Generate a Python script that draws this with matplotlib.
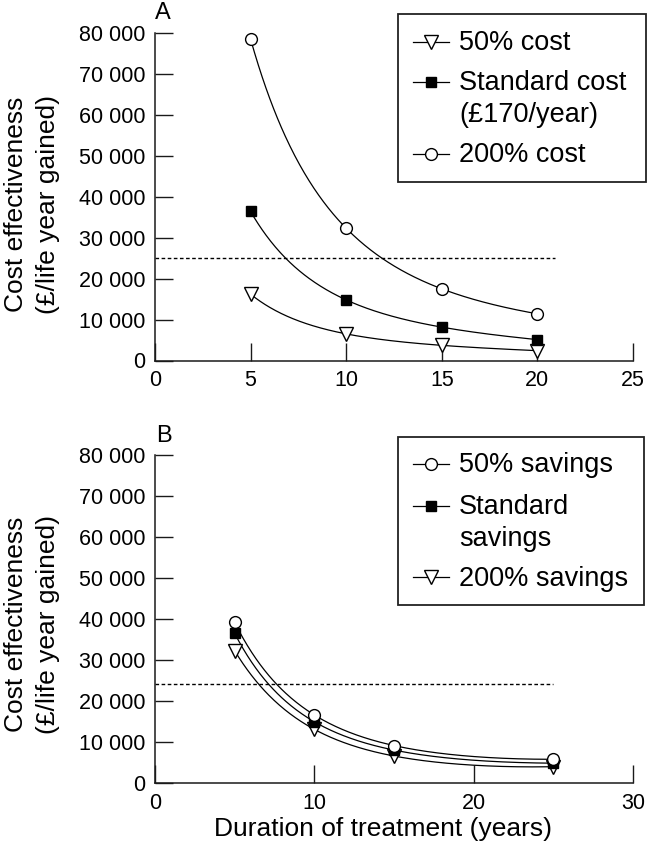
import numpy as np
import matplotlib
matplotlib.use("Agg")
import matplotlib.pyplot as plt
from matplotlib.lines import Line2D
from matplotlib.patches import Rectangle

# ---------------- data ----------------
years_A = [5, 10, 15, 20]
cost_50 = [16200, 6500, 3700, 2400]
cost_std = [36400, 14800, 8150, 5100]
cost_200 = [78500, 32300, 17500, 11400]
threshold_A = 25000
threshold_A_xmax = 20.9

years_B = [5, 10, 15, 25]
sav_50 = [39200, 16650, 9200, 5850]
sav_std = [36550, 15000, 8100, 4900]
sav_200 = [32300, 13150, 6650, 4050]
threshold_B = 24100
threshold_B_xmax = 25.0

y_ticks = [0, 10000, 20000, 30000, 40000, 50000, 60000, 70000, 80000]
x_ticks_A = [0, 5, 10, 15, 20, 25]
x_ticks_B = [0, 10, 20, 30]

labels_A = ["50% cost", "Standard cost\n(£170/year)", "200% cost"]
labels_B = ["50% savings", "Standard\nsavings", "200% savings"]

ylabel = "Cost effectiveness\n(£/life year gained)"
xlabel = "Duration of treatment (years)"

# ---------------- style ----------------
W, H = 648, 852
plt.rcParams['font.family'] = ['Liberation Sans', 'DejaVu Sans']
fig = plt.figure(figsize=(W / 100, H / 100), dpi=100)


def fx(x):
    return x / W


def fy(y):
    return 1 - y / H


def smooth(x, y):
    x = np.asarray(x, float)
    ly = np.log(np.asarray(y, float))
    c = np.polyfit(x, ly, len(x) - 1)
    xs = np.linspace(x[0], x[-1], 300)
    return xs, np.exp(np.polyval(c, xs))


def fmt(v):
    return f"{v:,}".replace(",", " ")


MK = {
    'tri': dict(marker='v', mfc='white', ms=9.5),
    'sq': dict(marker='s', mfc='black', ms=7.5),
    'circ': dict(marker='o', mfc='white', ms=8.5),
}


def setup_axes(rect, xmax, xticks):
    ax = fig.add_axes(rect)
    ax.set_xlim(0, xmax)
    ax.set_ylim(0, 80000)
    for s in ['top', 'right']:
        ax.spines[s].set_visible(False)
    for s in ['left', 'bottom']:
        ax.spines[s].set_linewidth(1.1)
        ax.spines[s].set_color('#1a1a1a')
    ax.set_yticks(y_ticks)
    ax.set_yticklabels([fmt(v) for v in y_ticks])
    ax.set_xticks(xticks)
    ax.set_xticklabels([str(v) for v in xticks])
    ax.tick_params(axis='both', direction='in', length=13, width=1.0,
                   color='#1a1a1a', labelsize=15.5, pad=7)
    return ax


def draw_series(ax, x, y, key):
    xs, ys = smooth(x, y)
    ax.plot(xs, ys, color='black', lw=0.9, zorder=2)
    ax.plot(x, y, ls='none', mec='black', mew=1.0, zorder=3, clip_on=False,
            **MK[key])


def draw_legend(box, labels, keys, marker_y, line_baselines):
    x0, y0, x1, y1 = box
    fig.add_artist(Rectangle((fx(x0), fy(y1)), fx(x1 - x0), (y1 - y0) / H,
                             transform=fig.transFigure, fill=False,
                             lw=1.3, ec='#222222'))
    for lab, key, my, bls in zip(labels, keys, marker_y, line_baselines):
        fig.add_artist(Line2D([fx(413), fx(449)], [fy(my), fy(my)],
                              transform=fig.transFigure, color='black', lw=0.9))
        fig.add_artist(Line2D([fx(431)], [fy(my)], transform=fig.transFigure,
                              ls='none', mec='black', mew=1.0, **MK[key]))
        for line, bl in zip(lab.split("\n"), bls):
            fig.text(fx(459), fy(bl), line, fontsize=19.5, ha='left',
                     va='baseline')


# ---------------- panel A ----------------
axA = setup_axes([fx(155), fy(360.5), fx(633 - 155), (360.5 - 33) / H],
                 25, x_ticks_A)
axA.plot([0, threshold_A_xmax], [threshold_A, threshold_A], color='black',
         lw=1.0, ls=(0, (2.6, 1.8)), zorder=1)
draw_series(axA, years_A, cost_50, 'tri')
draw_series(axA, years_A, cost_std, 'sq')
draw_series(axA, years_A, cost_200, 'circ')
fig.text(fx(155), fy(19), "A", fontsize=17, ha='left', va='baseline')
draw_legend((398, 14, 646, 182), labels_A, ['tri', 'sq', 'circ'],
            [41.5, 81.5, 154], [[50.5], [90.5, 121.5], [162.5]])
fig.text(fx(32), fy(204), ylabel, fontsize=19, rotation=90, ha='center',
         va='center', multialignment='center', linespacing=1.45)

# ---------------- panel B ----------------
axB = setup_axes([fx(155), fy(783.3), fx(633 - 155), (783.3 - 455) / H],
                 30, x_ticks_B)
axB.plot([0, threshold_B_xmax], [threshold_B, threshold_B], color='black',
         lw=1.0, ls=(0, (2.6, 1.8)), zorder=1)
draw_series(axB, years_B, sav_200, 'tri')
draw_series(axB, years_B, sav_std, 'sq')
draw_series(axB, years_B, sav_50, 'circ')
fig.text(fx(156), fy(442), "B", fontsize=17, ha='left', va='baseline')
draw_legend((398, 437, 644, 605), labels_B, ['circ', 'sq', 'tri'],
            [463.5, 506, 577], [[472], [513.5, 545.5], [585.5]])
fig.text(fx(32), fy(624), ylabel, fontsize=19, rotation=90, ha='center',
         va='center', multialignment='center', linespacing=1.45)

fig.text(fx(383), fy(836), xlabel, fontsize=19, ha='center', va='baseline')

fig.savefig("out.png", dpi=100)
